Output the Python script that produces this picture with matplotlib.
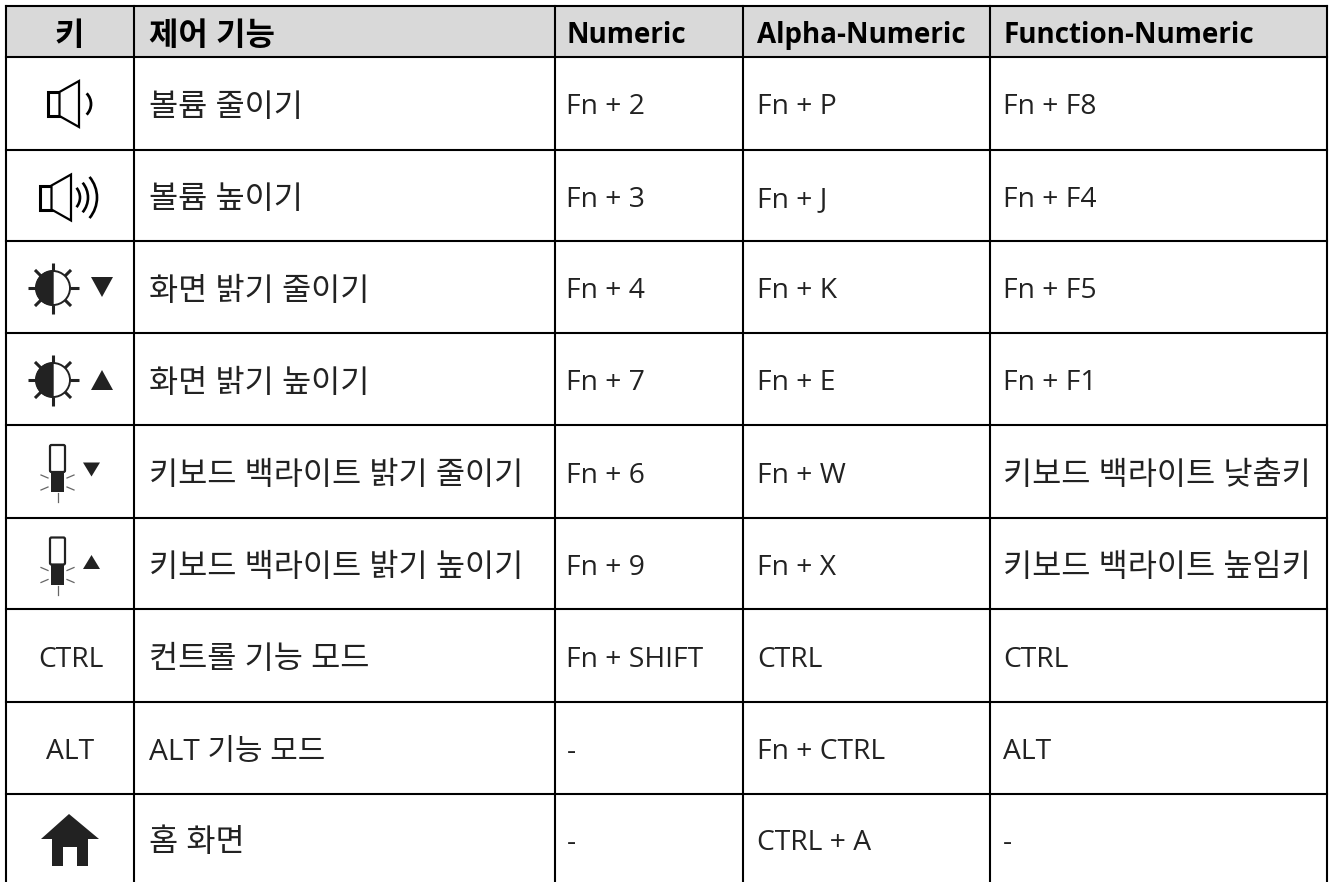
import matplotlib
matplotlib.use("Agg")
import matplotlib.pyplot as plt
from matplotlib.patches import Polygon, Rectangle, Wedge, Circle, Arc, FancyBboxPatch

plt.rcParams['font.family'] = ['Open Sans', 'Noto Sans CJK KR', 'DejaVu Sans']

W, H = 1333, 882
col_edges = [6, 134, 554.5, 743, 989.5, 1327]
text_x = [149, 566.5, 757, 1003]
row_edges = [5.5, 56.5, 149.5, 241, 333, 425, 517.5, 609, 701.5, 794, 882]
header = ["키", "제어 기능", "Numeric", "Alpha-Numeric", "Function-Numeric"]
key_labels = ["", "", "", "", "", "", "CTRL", "ALT", ""]
functions = ["볼륨 줄이기", "볼륨 높이기", "화면 밝기 줄이기", "화면 밝기 높이기",
             "키보드 백라이트 밝기 줄이기", "키보드 백라이트 밝기 높이기",
             "컨트롤 기능 모드", "ALT 기능 모드", "홈 화면"]
numeric = ["Fn + 2", "Fn + 3", "Fn + 4", "Fn + 7", "Fn + 6", "Fn + 9", "Fn + SHIFT", "-", "-"]
alpha = ["Fn + P", "Fn + J", "Fn + K", "Fn + E", "Fn + W", "Fn + X", "CTRL", "Fn + CTRL", "CTRL + A"]
function_num = ["Fn + F8", "Fn + F4", "Fn + F5", "Fn + F1", "키보드 백라이트 낮춤키",
                "키보드 백라이트 높임키", "CTRL", "ALT", "-"]

fig = plt.figure(figsize=(W / 100, H / 100), dpi=100)
ax = fig.add_axes([0, 0, 1, 1])
ax.set_xlim(0, W)
ax.set_ylim(H, 0)
ax.axis("off")
INK = "#222222"

ax.add_patch(Rectangle((col_edges[0], row_edges[0]), col_edges[-1] - col_edges[0],
                       row_edges[1] - row_edges[0], fc="#d9d9d9", ec="none", zorder=0))
for x in col_edges:
    ax.plot([x, x], [row_edges[0], row_edges[-1]], color="black", lw=1.5, zorder=3, solid_capstyle="projecting")
for y in row_edges[:-1]:
    ax.plot([col_edges[0], col_edges[-1]], [y, y], color="black", lw=1.5, zorder=3, solid_capstyle="projecting")


def style_of(s):
    has_hangul = any('\uac00' <= ch <= '\ud7a3' for ch in s)
    has_latin = any('A' <= ch <= 'z' for ch in s)
    if has_hangul and not has_latin:
        return 22.8, 1.5
    if has_hangul:
        return 21.5, 0.5
    return 20.3, 0


ax.text(69.5, 45, header[0], ha="center", va="baseline", fontsize=23, fontweight="bold", color="black")
for i, h in enumerate(header[1:]):
    ax.text(text_x[i], 45 if i == 0 else 43, h, ha="left", va="baseline",
            fontsize=23 if i == 0 else 20, fontweight="bold", color="black")

for r in range(9):
    base = (row_edges[r + 1] + row_edges[r + 2]) / 2 + 11.5
    for c, col in enumerate([functions, numeric, alpha, function_num]):
        fs, dy = style_of(col[r])
        ax.text(text_x[c], base + dy, col[r], ha="left", va="baseline", fontsize=fs, color=INK)
    if key_labels[r]:
        fs, dy = style_of(key_labels[r])
        ax.text(70.5, base + dy, key_labels[r], ha="center", va="baseline", fontsize=fs, color=INK)


def speaker(x, y, wave_cx, waves, lw):
    ax.add_patch(Rectangle((x, y - 12), 11.5, 24, fc="white", ec="black", lw=2.2, zorder=4))
    ax.add_patch(Polygon([(x + 11.5, y - 12), (x + 31, y - 23), (x + 31, y + 23), (x + 11.5, y + 12)],
                         fc="white", ec="black", lw=1.6, zorder=4))
    for rad, span in waves:
        ax.add_patch(Arc((wave_cx, y), rad * 2, rad * 2, theta1=-span, theta2=span, color="black", lw=lw, zorder=4))


def sun(cx, cy):
    ax.add_patch(Circle((cx, cy), 17, fc="white", ec=INK, lw=1.4, zorder=4))
    ax.add_patch(Wedge((cx, cy), 17, 90, 270, fc=INK, ec=INK, lw=1, zorder=5))
    for dx, dy in [(0, 1), (0, -1), (1, 0), (-1, 0), (.707, .707), (-.707, .707), (.707, -.707), (-.707, -.707)]:
        ax.plot([cx + dx * 17, cx + dx * 25.5], [cy + dy * 17, cy + dy * 25.5], color=INK, lw=2.2, zorder=4,
                solid_capstyle="butt")


def tri(cx, cy, w, h, up):
    s = -1 if up else 1
    ax.add_patch(Polygon([(cx - w / 2, cy - s * h / 2), (cx + w / 2, cy - s * h / 2), (cx, cy + s * h / 2)],
                         fc=INK, ec="none", zorder=4))


def lamp(cx, top, up):
    ax.add_patch(FancyBboxPatch((cx - 7.5, top + 1), 15, 27, boxstyle="round,pad=0,rounding_size=1.5",
                                fc="white", ec=INK, lw=1.6, zorder=4))
    ax.add_patch(Rectangle((cx - 6.5, top + 28), 13, 20, fc=INK, ec="none", zorder=5))
    for dx0, dx1, dy0, dy1 in [(-9.5, -16.5, 34, 31), (9.5, 16.5, 34, 31), (-9.5, -16.5, 43, 46), (9.5, 16.5, 43, 46)]:
        ax.plot([cx + dx0, cx + dx1], [top + dy0, top + dy1], color="#666666", lw=0.9, zorder=4)
    ax.plot([cx, cx], [top + 49, top + 58], color="#666666", lw=0.9, zorder=4)
    tri(cx + 34, top + 25.5, 17, 14, up)


speaker(48, 104, 76, [(15, 45)], 2.0)
speaker(40, 197.5, 65, [(15, 40), (23, 40), (32, 40)], 1.9)
sun(53, 288)
tri(102, 287, 22, 20, False)
sun(53, 380)
tri(102, 380, 22, 20, True)
lamp(57.5, 444, False)
lamp(57.5, 536.5, True)
ax.add_patch(Polygon([(69, 814), (99, 839), (88, 839), (88, 866), (77, 866), (77, 847), (63, 847),
                      (63, 866), (52, 866), (52, 839), (41, 839)], fc=INK, ec="none", zorder=4))

fig.savefig("out.png", dpi=100)
